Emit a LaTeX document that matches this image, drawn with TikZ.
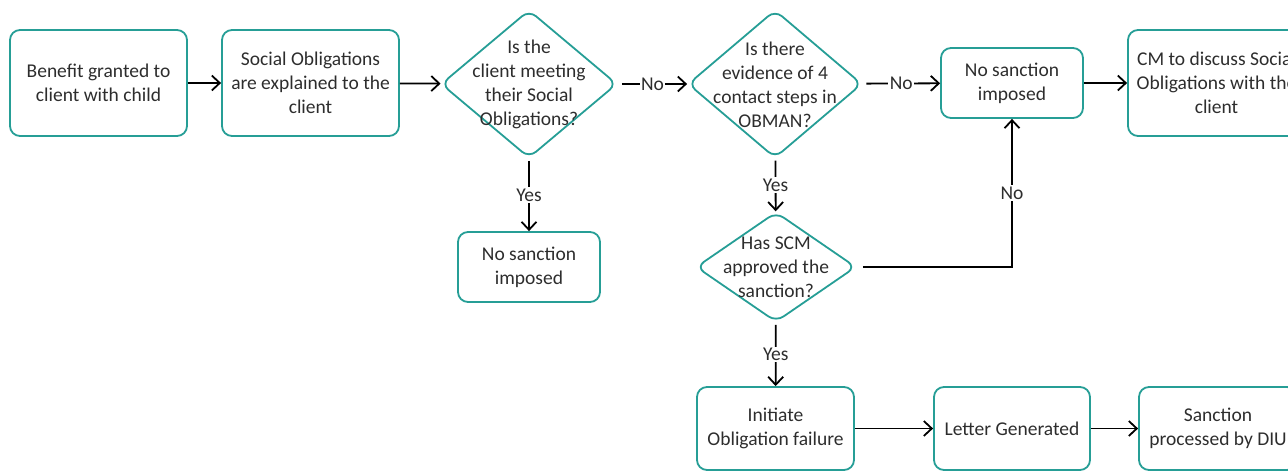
\documentclass[tikz,border=0pt]{standalone}
\usepackage{fontspec}
\setmainfont{Carlito}
\usetikzlibrary{shapes.geometric,arrows.meta}
\definecolor{tealb}{RGB}{38,158,150}
\definecolor{txt}{RGB}{45,45,45}
\newcommand{\fsz}{\fontsize{19.5}{24}\selectfont}
\begin{document}
\begin{tikzpicture}[x=1pt,y=-1pt,
  box/.style={draw=tealb, line width=1.8pt, rounded corners=10pt, align=center, inner sep=0pt, font=\fsz, text=txt},
  dia/.style={draw=tealb, line width=1.8pt, diamond, rounded corners=9pt, inner sep=0pt},
  dtext/.style={align=center, font=\fsz, text=txt, inner sep=0pt},
  arr/.style={draw=black, line width=1.8pt, -{Straight Barb[length=8pt,width=15pt,line width=1.8pt]}},
  lbl/.style={fill=white, inner sep=1.5pt, font=\fsz, text=txt}
]
\useasboundingbox (0,0) rectangle (1288,472);
\clip (0,0) rectangle (1288,472);

\node[box, minimum width=177pt, minimum height=106pt] (b1) at (98.5,83) {Benefit granted to\\client with child};
\node[box, minimum width=177pt, minimum height=106pt] (b2) at (310.5,83) {Social Obligations\\are explained to the\\client};
\node[dia, minimum width=176pt, minimum height=148pt] (d1) at (529,84) {};
\node[dtext] at (d1.center) {Is the\\client meeting\\their Social\\Obligations?};
\node[dia, minimum width=174pt, minimum height=148pt] (d2) at (775,84) {};
\node[dtext] at ([yshift=-1pt]d2.center) {Is there\\evidence of 4\\contact steps in\\OBMAN?};
\node[box, minimum width=142pt, minimum height=70pt] (ns1) at (1012,83) {No sanction\\imposed};
\node[box, minimum width=177pt, minimum height=106pt] (cm) at (1216.5,83) {CM to discuss Social\\Obligations with the\\client};
\node[box, minimum width=142pt, minimum height=70pt] (ns2) at (529,267) {No sanction\\imposed};
\node[dia, minimum width=160pt, minimum height=110pt] (d3) at (776,267) {};
\node[dtext] at (d3.center) {Has SCM\\approved the\\sanction?};
\node[box, minimum width=157pt, minimum height=83pt] (init) at (775.5,428.5) {Initiate\\Obligation failure};
\node[box, minimum width=156pt, minimum height=83pt] (let) at (1012,428.5) {Letter Generated};
\node[box, minimum width=158pt, minimum height=83pt] (san) at (1218,428.5) {Sanction\\processed by DIU};

\draw[arr] (b1) -- (b2);
\draw[arr] (b2) -- (d1);
\draw[arr, shorten <=4pt] (d1) -- node[lbl] {No} (d2);
\draw[arr, shorten <=4pt] (d2) -- node[lbl] {No} (ns1);
\draw[arr] (ns1) -- (cm);
\draw[arr, shorten <=2pt] (d1) -- node[lbl] {Yes} (ns2);
\draw[arr, shorten <=2pt] (d2) -- node[lbl] {Yes} (d3);
\draw[arr, shorten <=6pt] (d3.east) -| node[lbl, pos=0.75] {No} (ns1.south);
\draw[arr, shorten <=2pt] (d3) -- node[lbl] {Yes} (init);
\draw[arr] (init) -- (let);
\draw[arr] (let) -- (san);
\end{tikzpicture}
\end{document}
